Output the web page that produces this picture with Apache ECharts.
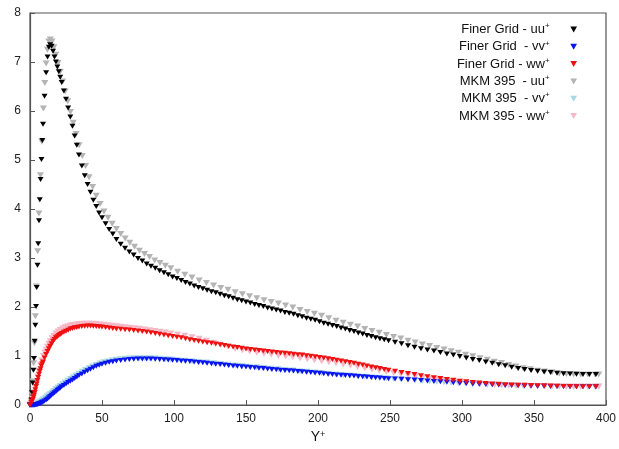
<!DOCTYPE html>
<html><head><meta charset="utf-8">
<script src="https://cdn.jsdelivr.net/npm/echarts@6/dist/echarts.min.js"></script>
<style>html,body{margin:0;padding:0;background:#fff}#c{width:619px;height:449px}</style>
</head><body><div id="c"></div>
<script>
// ---- Data ----
const xTicks = [0, 50, 100, 150, 200, 250, 300, 350, 400];
const yTicks = [0, 1, 2, 3, 4, 5, 6, 7, 8];
const seriesNames = ['Finer Grid - uu', 'Finer Grid  - vv', 'Finer Grid - ww', 'MKM 395  - uu', 'MKM 395  - vv', 'MKM 395 - ww'];

const finerYplus = [
 0, 1.0, 1.4, 1.9, 2.4, 2.75, 3.25, 3.7, 4.2, 4.65,
 5.2, 5.7, 6.25, 6.8, 7.35, 7.95, 8.55, 9.05, 10.1, 11.2,
 12.2, 13.1,
 14, 15, 16, 17, 18, 19, 20, 21, 22, 23.5,
 25, 26.5, 28, 29.5, 31, 32.5, 34, 36, 38, 40,
 42, 44, 46, 48, 50, 52.5, 55, 57.5, 60, 63,
 66, 69, 72, 75, 78, 81, 84, 87, 90, 93,
 96,
 99, 102, 105, 108, 111, 114, 117, 120, 123, 126,
 129, 132, 135, 138, 141, 144, 147, 150, 153, 156,
 159, 162, 165, 168, 171, 174, 177, 180, 183, 186,
 189, 192, 195, 198, 201, 204, 207, 210, 213, 216,
 219, 222, 225, 228, 231, 234, 237, 240, 243, 246,
 249,
 253.5, 258, 262.5, 267, 271.5, 276, 280.5, 285, 289.5, 294,
 298.5, 303, 307.5, 312, 316.5, 321, 325.5, 330, 334.5, 339,
 343.5, 348, 352.5, 357, 361.5, 366, 370.5, 375, 379.5, 384,
 388.5, 393
];
const finerUU = [
 0, 0.1, 0.25, 0.45, 0.71, 0.95, 1.3, 1.63, 2.01, 2.4,
 2.85, 3.29, 3.76, 4.19, 4.6, 5.01, 5.4, 5.73, 6.30, 6.78,
 7.1, 7.3,
 7.35, 7.32, 7.22, 7.1, 7.0, 6.9, 6.8, 6.69, 6.58, 6.41,
 6.24, 6.06, 5.88, 5.69, 5.49, 5.3, 5.1, 4.88, 4.68, 4.5,
 4.34, 4.18, 4.05, 3.92, 3.82, 3.7, 3.58, 3.49, 3.38, 3.28,
 3.2, 3.12, 3.06, 2.99, 2.94, 2.88, 2.83, 2.79, 2.74, 2.7,
 2.66,
 2.61, 2.58, 2.54, 2.5, 2.47, 2.43, 2.4, 2.37, 2.34, 2.31,
 2.29, 2.26, 2.23, 2.21, 2.18, 2.15, 2.13, 2.1, 2.08, 2.05,
 2.03, 2.01, 1.98, 1.96, 1.94, 1.92, 1.89, 1.87, 1.85, 1.82,
 1.8, 1.77, 1.75, 1.73, 1.7, 1.67, 1.65, 1.62, 1.6, 1.57,
 1.55, 1.52, 1.5, 1.47, 1.45, 1.42, 1.4, 1.37, 1.35, 1.33,
 1.31,
 1.28, 1.25, 1.21, 1.18, 1.15, 1.12, 1.1, 1.07, 1.04, 1.02,
 0.99, 0.96, 0.93, 0.91, 0.88, 0.85, 0.82, 0.8, 0.77, 0.745,
 0.725, 0.705, 0.69, 0.675, 0.665, 0.65, 0.64, 0.635, 0.63, 0.625,
 0.62, 0.62
];
const finerVV = [
 0, 0, 0, 0, 0, 0, 0.002, 0.004, 0.006, 0.008,
 0.012, 0.018, 0.024, 0.03, 0.038, 0.047, 0.055, 0.062, 0.08, 0.1,
 0.125, 0.148,
 0.175, 0.2, 0.225, 0.25, 0.27, 0.3, 0.32, 0.345, 0.37, 0.4,
 0.43, 0.46, 0.485, 0.51, 0.54, 0.57, 0.6, 0.635, 0.67, 0.7,
 0.73, 0.76, 0.79, 0.81, 0.83, 0.85, 0.87, 0.885, 0.9, 0.91,
 0.92, 0.928, 0.935, 0.937, 0.94, 0.94, 0.937, 0.935, 0.93, 0.925,
 0.918,
 0.912, 0.906, 0.9, 0.894, 0.888, 0.879, 0.869, 0.86, 0.851, 0.842,
 0.833, 0.824, 0.815, 0.806, 0.797, 0.79, 0.782, 0.775, 0.767, 0.76,
 0.752, 0.745, 0.735, 0.726, 0.717, 0.711, 0.705, 0.7, 0.692, 0.685,
 0.677, 0.67, 0.662, 0.655, 0.647, 0.638, 0.629, 0.62, 0.614, 0.608,
 0.602, 0.596, 0.59, 0.584, 0.578, 0.571, 0.563, 0.555, 0.549, 0.543,
 0.537,
 0.53, 0.524, 0.517, 0.508, 0.499, 0.49, 0.481, 0.472, 0.463, 0.454,
 0.445, 0.437, 0.43, 0.424, 0.417, 0.411, 0.406, 0.4, 0.396, 0.391,
 0.389, 0.386, 0.384, 0.382, 0.38, 0.378, 0.376, 0.374, 0.372, 0.37,
 0.37, 0.37
];
const finerWW = [
 0, 0.05, 0.08, 0.11, 0.16, 0.2, 0.25, 0.31, 0.38, 0.43,
 0.5, 0.56, 0.63, 0.69, 0.74, 0.8, 0.84, 0.88, 0.96, 1.03,
 1.09, 1.15,
 1.2, 1.25, 1.3, 1.335, 1.37, 1.395, 1.42, 1.44, 1.46, 1.485,
 1.505, 1.525, 1.55, 1.56, 1.575, 1.582, 1.59, 1.6, 1.605, 1.61,
 1.61, 1.607, 1.603, 1.597, 1.59, 1.58, 1.57, 1.56, 1.55, 1.545,
 1.535, 1.53, 1.52, 1.51, 1.5, 1.49, 1.475, 1.46, 1.445, 1.43,
 1.415,
 1.4, 1.385, 1.37, 1.352, 1.334, 1.318, 1.301, 1.285, 1.271, 1.258,
 1.244, 1.23, 1.215, 1.2, 1.186, 1.172, 1.158, 1.145, 1.135, 1.124,
 1.113, 1.103, 1.092, 1.082, 1.072, 1.063, 1.054, 1.045, 1.036, 1.027,
 1.018, 1.007, 0.995, 0.983, 0.97, 0.957, 0.944, 0.93, 0.915, 0.9,
 0.885, 0.868, 0.85, 0.832, 0.814, 0.796, 0.778, 0.76, 0.743, 0.727,
 0.71,
 0.688, 0.665, 0.643, 0.62, 0.598, 0.578, 0.558, 0.54, 0.522, 0.504,
 0.487, 0.472, 0.459, 0.447, 0.437, 0.428, 0.421, 0.415, 0.41, 0.405,
 0.402, 0.398, 0.395, 0.392, 0.388, 0.384, 0.38, 0.377, 0.375, 0.373,
 0.371, 0.37
];

const mkmYplus = [
 0, 0.4, 0.8, 1.3, 1.9, 2.5, 3.1, 3.75, 4.4, 5.3,
 6.2, 7.25, 8.2, 9.3, 10.3, 11.2, 12.1, 13.1, 14.1,
 15.3, 16.6, 18, 19.5, 21, 22.7, 24.4, 26.2, 28.1, 30,
 32, 34.1, 36.3, 38.6, 41, 43.5, 46, 48.7, 51.4, 54.2,
 57.1, 60, 63, 66.1, 69.3, 72.6, 76, 79.5, 83, 86.6,
 90.3, 94, 97.8,
 102.5, 107.5, 112.5, 117.5, 122.5, 127.5, 132.5, 137.5, 142.5, 147.5,
 152.5, 157.5, 162.5, 167.5, 172.5, 177.5, 182.5, 187.5, 192.5, 197.5,
 202.5, 207.5, 212.5, 217.5, 222.5, 227.5, 232.5, 237.5, 242.5, 247.5,
 252.5, 257.5, 262.5, 267.5, 272.5, 277.5, 282.5, 287.5, 292.5, 297.5,
 302.5, 307.5, 312.5, 317.5, 322.5, 327.5, 332.5, 337.5, 342.5, 347.5,
 352.5, 357.5, 362.5, 367.5, 372.5, 377.5, 382.5, 387.5, 392.5, 395
];
const mkmUU = [
 0, 0.02, 0.08, 0.22, 0.48, 0.85, 1.26, 1.81, 2.42, 3.14,
 3.91, 4.69, 5.37, 6.05, 6.57, 6.97, 7.25, 7.42, 7.46,
 7.42, 7.3, 7.15, 6.98, 6.8, 6.6, 6.4, 6.2, 5.98, 5.76,
 5.53, 5.3, 5.08, 4.88, 4.65, 4.45, 4.27, 4.1, 3.95, 3.82,
 3.7, 3.59, 3.49, 3.4, 3.31, 3.23, 3.15, 3.08, 3.02, 2.95,
 2.9, 2.84, 2.79,
 2.72, 2.66, 2.6, 2.54, 2.49, 2.44, 2.39, 2.35, 2.3, 2.26,
 2.22, 2.18, 2.14, 2.1, 2.07, 2.03, 1.99, 1.94, 1.9, 1.86,
 1.82, 1.77, 1.72, 1.68, 1.64, 1.6, 1.55, 1.51, 1.475, 1.43,
 1.39, 1.355, 1.31, 1.275, 1.235, 1.205, 1.165, 1.135, 1.095, 1.065,
 1.025, 0.995, 0.955, 0.925, 0.885, 0.855, 0.815, 0.785, 0.75, 0.73,
 0.7, 0.685, 0.67, 0.645, 0.635, 0.63, 0.625, 0.62, 0.62, 0.62
];
const mkmVV = [
 0, 0, 0, 0.001, 0.003, 0.006, 0.01, 0.016, 0.024, 0.035,
 0.05, 0.07, 0.09, 0.11, 0.135, 0.155, 0.18, 0.2, 0.225,
 0.255, 0.285, 0.32, 0.355, 0.39, 0.425, 0.46, 0.495, 0.53, 0.565,
 0.6, 0.64, 0.68, 0.715, 0.75, 0.785, 0.815, 0.845, 0.87, 0.89,
 0.91, 0.925, 0.935, 0.945, 0.95, 0.955, 0.955, 0.955, 0.952, 0.948,
 0.943, 0.935, 0.928,
 0.915, 0.905, 0.893, 0.88, 0.866, 0.851, 0.836, 0.822, 0.808, 0.795,
 0.781, 0.768, 0.755, 0.742, 0.729, 0.716, 0.703, 0.69, 0.677, 0.664,
 0.651, 0.637, 0.624, 0.612, 0.6, 0.589, 0.578, 0.567, 0.556, 0.545,
 0.535, 0.525, 0.515, 0.505, 0.495, 0.485, 0.475, 0.465, 0.455, 0.446,
 0.437, 0.429, 0.421, 0.414, 0.408, 0.402, 0.397, 0.393, 0.389, 0.386,
 0.383, 0.381, 0.379, 0.377, 0.375, 0.374, 0.373, 0.372, 0.372, 0.372
];
const mkmWW = [
 0, 0.01, 0.04, 0.08, 0.13, 0.19, 0.26, 0.36, 0.45, 0.58,
 0.7, 0.82, 0.91, 1.0, 1.07, 1.13, 1.19, 1.25, 1.3,
 1.36, 1.41, 1.46, 1.5, 1.53, 1.56, 1.585, 1.605, 1.62, 1.635,
 1.645, 1.652, 1.657, 1.66, 1.66, 1.658, 1.652, 1.645, 1.637, 1.628,
 1.618, 1.608, 1.598, 1.588, 1.577, 1.566, 1.554, 1.541, 1.527, 1.512,
 1.496, 1.479, 1.461,
 1.44, 1.415, 1.385, 1.35, 1.31, 1.27, 1.23, 1.19, 1.15, 1.115,
 1.09, 1.065, 1.045, 1.025, 1.005, 0.99, 0.972, 0.955, 0.935, 0.915,
 0.895, 0.872, 0.85, 0.825, 0.8, 0.775, 0.75, 0.725, 0.7, 0.675,
 0.652, 0.628, 0.605, 0.583, 0.562, 0.542, 0.523, 0.505, 0.488, 0.472,
 0.458, 0.445, 0.434, 0.424, 0.415, 0.408, 0.402, 0.397, 0.393, 0.39,
 0.387, 0.385, 0.383, 0.381, 0.38, 0.379, 0.378, 0.378, 0.378, 0.378
];

// ---- Styling ----
const colors = ['#000000', '#0a14f0', '#f01010', '#b4b4b4', '#a8d8e4', '#f5b8c6'];
const TRI = 'path://M0,0L10,0L5,9Z';
const FONT = 'Liberation Sans';

function zip(xs, ys) { return xs.map((x, i) => [x, ys[i]]); }
const sets = [
  [finerYplus, finerUU], [finerYplus, finerVV], [finerYplus, finerWW],
  [mkmYplus, mkmUU], [mkmYplus, mkmVV], [mkmYplus, mkmWW]
];

const series = seriesNames.map((nm, i) => ({
  name: nm,
  type: 'scatter',
  data: zip(sets[i][0], sets[i][1]),
  symbol: TRI,
  symbolSize: i < 3 ? [6, 5] : [7, 6],
  itemStyle: { color: colors[i], opacity: 1 },
  z: i < 3 ? 4 : 2,
  clip: false,
  silent: true
}));

const chart = echarts.init(document.getElementById('c'), null, { renderer: 'canvas' });
chart.setOption({
  animation: false,
  backgroundColor: '#ffffff',
  textStyle: { fontFamily: FONT },
  grid: { left: 30, right: 12, top: 13, bottom: 44, show: true, borderColor: '#555', borderWidth: 1.2, backgroundColor: 'transparent' },
  legend: {
    orient: 'vertical', right: 37, top: 17, align: 'right',
    itemGap: 3.3, itemWidth: 24, itemHeight: 6, icon: TRI,
    data: seriesNames,
    formatter: n => '{t|' + n + '}{s|+}',
    textStyle: {
      color: '#111', padding: [0, 7, 0, 0],
      rich: {
        t: { fontFamily: FONT, fontSize: 13, lineHeight: 15, color: '#111' },
        s: { fontFamily: FONT, fontSize: 8, verticalAlign: 'top', color: '#111' }
      }
    }
  },
  xAxis: {
    type: 'value', min: xTicks[0], max: xTicks[xTicks.length - 1], interval: xTicks[1] - xTicks[0],
    name: '{a|Y}{b|+}', nameLocation: 'middle', nameGap: 23,
    nameTextStyle: { rich: { a: { fontFamily: FONT, fontSize: 14, color: '#111' }, b: { fontFamily: FONT, fontSize: 9, verticalAlign: 'top', color: '#111' } } },
    axisLine: { onZero: false, lineStyle: { color: '#555', width: 1.2 } },
    axisTick: { inside: true, length: 5, lineStyle: { color: '#555' } },
    axisLabel: { color: '#222', fontSize: 12, margin: 8, fontFamily: FONT },
    splitLine: { show: false }
  },
  yAxis: {
    type: 'value', min: yTicks[0], max: yTicks[yTicks.length - 1], interval: yTicks[1] - yTicks[0],
    axisLine: { show: true, onZero: false, lineStyle: { color: '#555', width: 1.2 } },
    axisTick: { show: true, inside: true, length: 5, lineStyle: { color: '#555' } },
    axisLabel: { color: '#222', fontSize: 12, margin: 9, fontFamily: FONT },
    splitLine: { show: false }
  },
  series: series
});
</script>
</body></html>
